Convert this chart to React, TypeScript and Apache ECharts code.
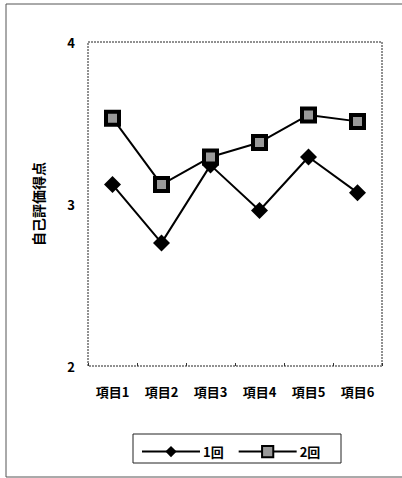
import React, { useEffect, useRef } from "react";
import * as echarts from "echarts";

const categories = ["項目1", "項目2", "項目3", "項目4", "項目5", "項目6"];
const series1Name = "1回";
const series2Name = "2回";
const series1 = [3.12, 2.76, 3.24, 2.96, 3.29, 3.07];
const series2 = [3.53, 3.12, 3.29, 3.38, 3.55, 3.51];
const yTicks = [2, 3, 4];
const yTitle = "自己評価得点";

const FONT = "'Noto Sans CJK JP', 'Noto Sans', sans-serif";

export default function App() {
  const ref = useRef<HTMLDivElement>(null);
  useEffect(() => {
    document.body.style.margin = "0";
    const chart = echarts.init(ref.current!, null, { renderer: "svg" });
    chart.setOption({
      animation: false,
      backgroundColor: "#fff",
      grid: {
        left: 88,
        top: 42,
        right: 20,
        bottom: 112,
        show: true,
        borderColor: "#222",
        borderWidth: 1,
        borderType: [2, 1],
      },
      graphic: [
        {
          type: "rect",
          shape: { x: 6, y: 4, width: 404, height: 473 },
          style: { fill: "none", stroke: "#555", lineWidth: 1 },
          silent: true,
        },
        {
          type: "rect",
          shape: { x: 133, y: 434, width: 208, height: 29 },
          style: { fill: "none", stroke: "#222", lineWidth: 1 },
          silent: true,
        },
      ],
      legend: {
        left: 136,
        top: 440,
        itemWidth: 58,
        itemHeight: 14,
        itemGap: 14,
        data: [series1Name, series2Name],
        textStyle: { fontFamily: FONT, fontSize: 13, fontWeight: "bold", color: "#000", padding: [0, 0, 0, -2] },
      },
      xAxis: {
        type: "category",
        data: categories,
        boundaryGap: true,
        axisLine: { show: false },
        axisTick: { show: true, inside: true, length: 3, lineStyle: { color: "#333" } },
        axisLabel: {
          margin: 19,
          fontFamily: FONT,
          fontSize: 13,
          fontWeight: "bold",
          color: "#000",
        },
      },
      yAxis: {
        type: "value",
        min: yTicks[0],
        max: yTicks[yTicks.length - 1],
        interval: 1,
        name: yTitle,
        nameLocation: "middle",
        nameGap: 43,
        nameRotate: 90,
        nameTextStyle: { fontFamily: FONT, fontSize: 14, fontWeight: "bold", color: "#000" },
        axisLine: { show: false },
        axisTick: { show: false },
        splitLine: { show: false },
        axisLabel: {
          margin: 13,
          fontFamily: FONT,
          fontSize: 13,
          fontWeight: "bold",
          color: "#000",
        },
      },
      series: [
        {
          name: series1Name,
          type: "line",
          data: series1,
          symbol: "diamond",
          symbolSize: 17,
          lineStyle: { color: "#000", width: 2 },
          itemStyle: { color: "#000" },
        },
        {
          name: series2Name,
          type: "line",
          data: series2,
          symbol: "rect",
          symbolSize: 13,
          lineStyle: { color: "#000", width: 2 },
          itemStyle: { color: "#999", borderColor: "#000", borderWidth: 4 },
        },
      ],
    });
    return () => chart.dispose();
  }, []);
  return <div ref={ref} style={{ width: 402, height: 478 }} />;
}
